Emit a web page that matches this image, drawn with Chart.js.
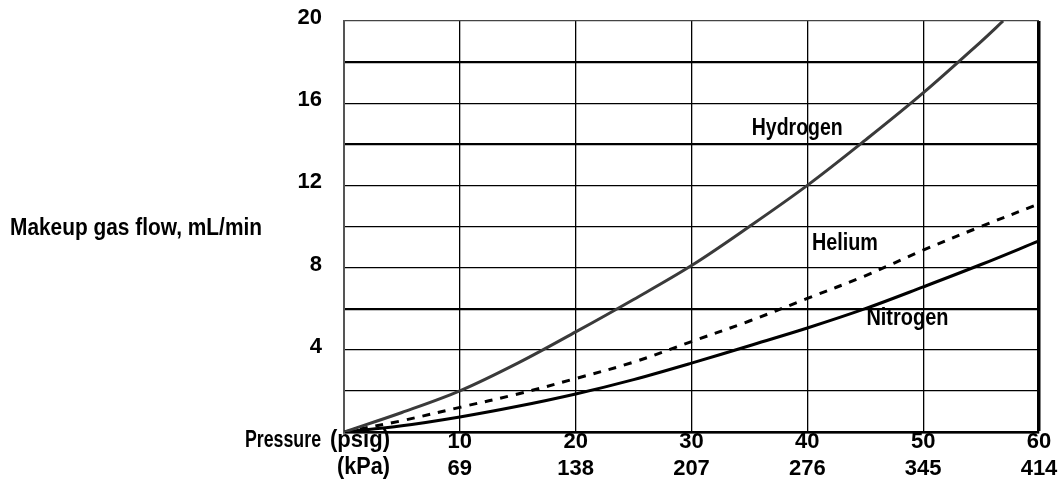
<!DOCTYPE html>
<html>
<head>
<meta charset="utf-8">
<script src="https://cdn.jsdelivr.net/npm/chart.js@4/dist/chart.umd.min.js"></script>
<style>
  html, body { margin: 0; padding: 0; background: #fff; }
  #wrap { width: 1059px; height: 493px; position: relative; }
</style>
</head>
<body>
<div id="wrap"><canvas id="chart"></canvas></div>
<script>
const FONT = "'Liberation Sans', Arial, sans-serif"

// readings, psig vs mL/min
const pressurePsig = [0, 5, 10, 15, 20, 25, 30, 35, 40, 45, 50, 55, 60]
const hydrogenPsig = [0, 5, 10, 15, 20, 25, 30, 35, 40, 45, 50, 55, 56.9]
const hydrogenFlow = [0, 0.95, 2.0, 3.35, 4.87, 6.45, 8.1, 10.0, 12.0, 14.2, 16.5, 19.0, 20]
const heliumFlow = [0, 0.55, 1.2, 1.85, 2.6, 3.4, 4.4, 5.4, 6.5, 7.6, 8.85, 10.0, 11.1]
const nitrogenFlow = [0, 0.3, 0.73, 1.25, 1.85, 2.55, 3.35, 4.2, 5.06, 6.0, 7.06, 8.15, 9.3]

const psigTicks = [0, 10, 20, 30, 40, 50, 60]
const kpaLabels = ['', '69', '138', '207', '276', '345', '414']
const flowLabelTicks = [4, 8, 12, 16, 20]
const thickFlowLines = [0, 6, 14, 18]

const toPoints = (xs, ys) => xs.map((x, i) => ({ x: x, y: ys[i] }))

// tall condensed look: draw at a big size and squeeze to the wanted width
const drawCondensed = (ctx, text, x, y, width) => {
  const measured = ctx.measureText(text).width
  ctx.save()
  ctx.translate(x, y)
  ctx.scale(width / measured, 1)
  ctx.fillText(text, 0, 0)
  ctx.restore()
}

const textPlugin = {
  id: 'chartText',
  afterDraw(chart) {
    const {ctx, scales} = chart
    ctx.save()
    ctx.fillStyle = '#000'
    ctx.font = `bold 23px ${FONT}`
    ctx.textBaseline = 'middle'
    ctx.textAlign = 'left'
    drawCondensed(ctx, 'Makeup gas flow, mL/min', 10, 229, 252)
    drawCondensed(ctx, 'Pressure', 245, 441, 76)
    drawCondensed(ctx, '(psig)', 330, 441, 60)
    drawCondensed(ctx, '(kPa)', 337, 468, 53)

    const seriesLabels = [
      ['Hydrogen', 35.2, 14.75, 91],
      ['Helium', 40.4, 9.15, 66],
      ['Nitrogen', 45.1, 5.5, 82],
    ]
    seriesLabels.forEach(([text, x, y, w]) => {
      drawCondensed(ctx, text, scales.x.getPixelForValue(x), scales.y.getPixelForValue(y), w)
    })
    ctx.restore()
  }
}

const ctx = document.getElementById('chart').getContext('2d')
new Chart(ctx, {
  type: 'line',
  data: {
    datasets: [
      {
        label: 'Hydrogen',
        data: toPoints(hydrogenPsig, hydrogenFlow),
        borderColor: '#3a3a3a',
        borderWidth: 3,
      },
      {
        label: 'Helium',
        data: toPoints(pressurePsig, heliumFlow),
        borderColor: '#000',
        borderWidth: 3,
        borderDash: [8, 8],
      },
      {
        label: 'Nitrogen',
        data: toPoints(pressurePsig, nitrogenFlow),
        borderColor: '#000',
        borderWidth: 3,
      },
    ]
  },
  options: {
    responsive: true,
    maintainAspectRatio: false,
    animation: false,
    layout: { padding: { top: 21, right: 20, left: 0, bottom: 0 } },
    elements: {
      point: { radius: 0 },
      line: { tension: 0.35, fill: false },
    },
    plugins: {
      legend: { display: false },
      tooltip: { enabled: false },
    },
    scales: {
      x: {
        type: 'linear',
        min: 0,
        max: 60,
        afterBuildTicks(scale) {
          scale.ticks = psigTicks.map(v => ({ value: v }))
        },
        afterFit(scale) {
          scale.height = 61
          scale.paddingLeft = 0
          scale.paddingRight = 0
        },
        border: { color: '#000', width: 2.5 },
        grid: {
          drawTicks: false,
          color: '#000',
          lineWidth: c => (c.tick && c.tick.value === 60 ? 3.5 : 1.3),
        },
        ticks: {
          padding: -3,
          color: '#000',
          font: { family: FONT, size: 22, weight: 'bold', lineHeight: 1.2 },
          callback: (value) => {
            const i = psigTicks.indexOf(value)
            if (value === 0) return ''
            return [String(value), kpaLabels[i]]
          },
        },
      },
      y: {
        type: 'linear',
        min: 0,
        max: 20,
        afterFit(scale) {
          scale.width = 344
          scale.paddingTop = 0
          scale.paddingBottom = 0
        },
        border: { color: '#555', width: 2 },
        grid: {
          drawTicks: false,
          color: c => (c.tick && c.tick.value === 20 ? '#444' : '#000'),
          lineWidth: c => (c.tick && thickFlowLines.includes(c.tick.value) ? 2.2 : 1.2),
        },
        ticks: {
          stepSize: 2,
          padding: 22,
          labelOffset: -3,
          color: '#000',
          font: { family: FONT, size: 22, weight: 'bold' },
          callback: (value) => (flowLabelTicks.includes(value) ? String(value) : ''),
        },
      },
    },
  },
  plugins: [textPlugin],
})
</script>
</body>
</html>
